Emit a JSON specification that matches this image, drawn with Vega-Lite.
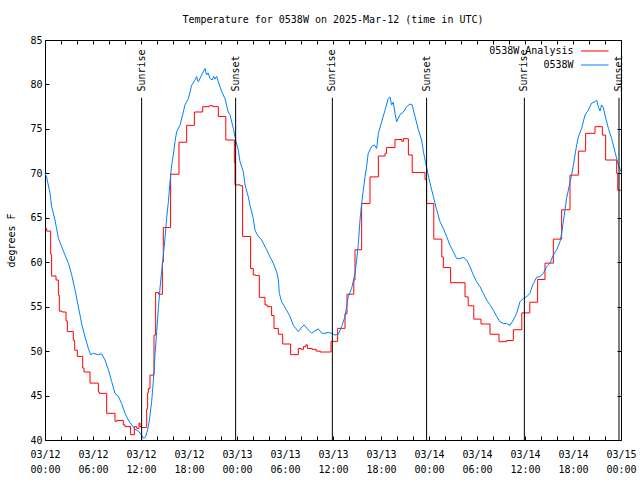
{
  "$schema": "https://vega.github.io/schema/vega-lite/v6.json",
  "width": 576,
  "height": 400,
  "autosize": "none",
  "padding": {"left": 45, "top": 40, "right": 19, "bottom": 40},
  "background": "white",
  "title": {"text": "Temperature for 0538W on 2025-Mar-12 (time in UTC)", "font": "DejaVu Sans Mono", "fontSize": 10, "fontWeight": "normal", "color": "black", "offset": 10, "anchor": "middle"},
  "config": {
    "view": {"stroke": "black", "strokeWidth": 1},
    "axis": {"labelFont": "DejaVu Sans Mono", "labelFontSize": 10, "labelColor": "black", "tickColor": "black", "titleFont": "DejaVu Sans Mono", "titleFontSize": 10, "titleFontWeight": "normal", "titleColor": "black", "grid": false, "domain": false},
    "legend": {"orient": "none", "legendX": 531, "legendY": 6, "title": null, "symbolType": "M0,0H9.2", "symbolSize": 36, "symbolStrokeWidth": 1, "symbolFillColor": "transparent", "labelFont": "DejaVu Sans Mono", "labelFontSize": 10, "labelColor": "black", "labelAlign": "right", "labelOffset": -12.5, "rowPadding": 4, "padding": 0}
  },
  "datasets": {
    "ana": [
      {"h": 0, "v": 63.8}, {"h": 0.21, "v": 63.5}, {"h": 0.71, "v": 60.9}, {"h": 0.83, "v": 58.45}, {"h": 1.375, "v": 58.0}, {"h": 1.67, "v": 56.3}, {"h": 1.79, "v": 54.5}, {"h": 2.125, "v": 54.4}, {"h": 2.625, "v": 53.4}, {"h": 2.79, "v": 52.2}, {"h": 3.54, "v": 51.2}, {"h": 3.71, "v": 50.1}, {"h": 4.04, "v": 49.4}, {"h": 4.71, "v": 48.1}, {"h": 4.875, "v": 47.65}, {"h": 5.625, "v": 46.4}, {"h": 6.67, "v": 45.4}, {"h": 6.79, "v": 45.25}, {"h": 7.71, "v": 43.0}, {"h": 8.75, "v": 42.1}, {"h": 8.96, "v": 42.2}, {"h": 9.79, "v": 41.7}, {"h": 10.0, "v": 41.5}, {"h": 10.7, "v": 40.6}, {"h": 11.17, "v": 41.5}, {"h": 11.46, "v": 41.3}, {"h": 11.75, "v": 41.9}, {"h": 11.875, "v": 41.5}, {"h": 12.08, "v": 41.4}, {"h": 12.71, "v": 43.5}, {"h": 12.83, "v": 45.3}, {"h": 12.92, "v": 45.8}, {"h": 13.125, "v": 47.3}, {"h": 13.625, "v": 51.8}, {"h": 13.83, "v": 56.6}, {"h": 14.2, "v": 56.4}, {"h": 14.67, "v": 60.0}, {"h": 14.79, "v": 63.9}, {"h": 15.7, "v": 69.9}, {"h": 16.75, "v": 73.5}, {"h": 17.71, "v": 75.4}, {"h": 18.67, "v": 76.9}, {"h": 19.71, "v": 77.5}, {"h": 20.5, "v": 77.6}, {"h": 21.0, "v": 77.5}, {"h": 21.67, "v": 76.4}, {"h": 22.6, "v": 73.75}, {"h": 23.67, "v": 71.2}, {"h": 23.75, "v": 68.7}, {"h": 24.4, "v": 68.6}, {"h": 24.7, "v": 62.9},
      {"h": 25.7, "v": 59.3}, {"h": 26.04, "v": 58.56}, {"h": 26.375, "v": 58.5}, {"h": 26.79, "v": 56.05}, {"h": 27.5, "v": 55.2}, {"h": 27.79, "v": 55.0}, {"h": 28.33, "v": 54.0}, {"h": 28.625, "v": 52.55}, {"h": 29.17, "v": 51.9}, {"h": 29.71, "v": 50.8}, {"h": 30.7, "v": 49.6}, {"h": 31.67, "v": 50.3}, {"h": 32.0, "v": 50.2}, {"h": 32.3, "v": 50.5}, {"h": 32.6, "v": 50.7}, {"h": 32.8, "v": 50.3}, {"h": 33.4, "v": 50.2}, {"h": 33.9, "v": 50.0}, {"h": 34.4, "v": 49.9}, {"h": 35.75, "v": 51.1}, {"h": 36.58, "v": 52.56}, {"h": 37.5, "v": 54.2}, {"h": 37.75, "v": 56.4}, {"h": 38.6, "v": 58.0}, {"h": 38.75, "v": 61.4}, {"h": 39.58, "v": 66.6}, {"h": 40.625, "v": 69.6}, {"h": 41.67, "v": 71.95}, {"h": 42.5, "v": 72.25}, {"h": 42.7, "v": 72.9}, {"h": 43.75, "v": 73.8}, {"h": 44.6, "v": 73.6}, {"h": 44.8, "v": 73.9}, {"h": 45.42, "v": 72.06}, {"h": 45.9, "v": 70.1}, {"h": 47.5, "v": 69.3}, {"h": 47.7, "v": 66.6}, {"h": 48.6, "v": 62.6}, {"h": 49.6, "v": 60.6}, {"h": 49.79, "v": 59.4}, {"h": 50.7, "v": 57.7}, {"h": 52.5, "v": 56.1}, {"h": 52.9, "v": 55.1}, {"h": 53.6, "v": 53.6}, {"h": 54.5, "v": 53.05}, {"h": 55.625, "v": 51.9}, {"h": 56.75, "v": 51.06}, {"h": 57.7, "v": 51.2}, {"h": 58.54, "v": 52.4}, {"h": 59.6, "v": 54.3}, {"h": 60.6, "v": 55.5}, {"h": 61.58, "v": 58.06}, {"h": 62.5, "v": 59.9}, {"h": 63.54, "v": 62.6}, {"h": 64.58, "v": 65.9}, {"h": 65.625, "v": 69.8}, {"h": 66.67, "v": 72.5}, {"h": 67.58, "v": 74.5}, {"h": 68.75, "v": 75.25}, {"h": 69.67, "v": 74.3}, {"h": 70.08, "v": 71.5}, {"h": 71.46, "v": 70.0}, {"h": 71.6, "v": 68.1}, {"h": 72.0, "v": 68.1}
    ],
    "obs": [
      {"h": 0, "v": 70.0}, {"h": 0.2, "v": 69.6}, {"h": 0.625, "v": 67.75}, {"h": 0.83, "v": 66.25}, {"h": 1.25, "v": 64.75}, {"h": 1.67, "v": 62.7}, {"h": 2.08, "v": 61.75}, {"h": 2.5, "v": 60.8}, {"h": 2.92, "v": 59.9}, {"h": 3.33, "v": 58.6}, {"h": 3.75, "v": 56.9}, {"h": 4.17, "v": 55.0}, {"h": 4.58, "v": 53.1}, {"h": 5.0, "v": 51.6}, {"h": 5.42, "v": 50.3}, {"h": 5.7, "v": 49.6}, {"h": 6.04, "v": 49.75}, {"h": 6.67, "v": 49.6}, {"h": 7.08, "v": 49.7}, {"h": 7.5, "v": 49.0}, {"h": 7.92, "v": 47.9}, {"h": 8.33, "v": 46.6}, {"h": 8.75, "v": 45.25}, {"h": 9.17, "v": 44.9}, {"h": 9.58, "v": 44.1}, {"h": 10.0, "v": 43.0}, {"h": 10.42, "v": 42.25}, {"h": 10.83, "v": 41.7}, {"h": 11.25, "v": 41.2}, {"h": 11.67, "v": 41.0}, {"h": 12.08, "v": 40.56}, {"h": 12.3, "v": 40.2}, {"h": 12.55, "v": 40.3}, {"h": 12.75, "v": 40.9}, {"h": 12.92, "v": 41.5}, {"h": 13.1, "v": 42.6}, {"h": 13.33, "v": 44.3}, {"h": 13.54, "v": 46.6}, {"h": 13.75, "v": 49.6}, {"h": 13.96, "v": 52.2}, {"h": 14.17, "v": 54.8}, {"h": 14.375, "v": 57.1}, {"h": 14.58, "v": 58.9}, {"h": 14.79, "v": 60.8}, {"h": 15.0, "v": 62.7}, {"h": 15.2, "v": 64.9}, {"h": 15.42, "v": 66.8}, {"h": 15.625, "v": 69.06}, {"h": 15.83, "v": 70.9}, {"h": 16.04, "v": 72.06}, {"h": 16.25, "v": 73.56}, {"h": 16.46, "v": 74.7}, {"h": 16.875, "v": 75.4}, {"h": 17.29, "v": 76.9}, {"h": 17.5, "v": 77.7}, {"h": 17.92, "v": 78.4}, {"h": 18.33, "v": 79.9}, {"h": 18.75, "v": 80.5}, {"h": 18.96, "v": 80.9}, {"h": 19.05, "v": 80.5}, {"h": 19.17, "v": 80.3}, {"h": 19.58, "v": 81.06}, {"h": 20.0, "v": 81.8}, {"h": 20.2, "v": 81.06}, {"h": 20.4, "v": 81.3}, {"h": 20.6, "v": 80.7}, {"h": 20.9, "v": 80.5}, {"h": 21.1, "v": 80.9}, {"h": 21.25, "v": 80.6}, {"h": 21.46, "v": 80.9}, {"h": 21.67, "v": 80.3}, {"h": 22.08, "v": 79.2}, {"h": 22.5, "v": 78.4}, {"h": 22.9, "v": 76.9}, {"h": 23.125, "v": 76.6}, {"h": 23.54, "v": 75.06}, {"h": 23.875, "v": 73.56}, {"h": 24.17, "v": 72.6}, {"h": 24.375, "v": 71.3}, {"h": 24.79, "v": 70.2}, {"h": 25.0, "v": 68.7}, {"h": 25.4, "v": 67.4}, {"h": 25.625, "v": 66.4}, {"h": 26.04, "v": 64.9}, {"h": 26.25, "v": 63.6}, {"h": 26.6, "v": 63.0}, {"h": 27.08, "v": 62.5}, {"h": 27.7, "v": 61.4}, {"h": 28.125, "v": 60.6}, {"h": 28.54, "v": 59.9}, {"h": 28.96, "v": 58.9}, {"h": 29.17, "v": 58.0}, {"h": 29.29, "v": 56.5}, {"h": 29.58, "v": 55.56}, {"h": 30.2, "v": 54.6}, {"h": 30.625, "v": 53.9}, {"h": 31.04, "v": 52.9}, {"h": 31.67, "v": 52.2}, {"h": 32.0, "v": 52.6}, {"h": 32.4, "v": 52.95}, {"h": 32.9, "v": 52.4}, {"h": 33.33, "v": 52.0}, {"h": 33.75, "v": 52.3}, {"h": 34.17, "v": 52.5}, {"h": 34.6, "v": 52.0}, {"h": 35.0, "v": 52.0}, {"h": 35.4, "v": 52.1}, {"h": 35.83, "v": 52.0}, {"h": 36.25, "v": 51.8}, {"h": 36.67, "v": 51.9}, {"h": 37.08, "v": 52.75}, {"h": 37.5, "v": 53.9}, {"h": 37.7, "v": 55.0}, {"h": 37.9, "v": 56.1}, {"h": 38.33, "v": 57.06}, {"h": 38.75, "v": 58.75}, {"h": 38.96, "v": 60.25}, {"h": 39.17, "v": 62.1}, {"h": 39.375, "v": 64.75}, {"h": 39.58, "v": 66.6}, {"h": 39.79, "v": 68.1}, {"h": 40.0, "v": 69.6}, {"h": 40.2, "v": 70.75}, {"h": 40.4, "v": 72.25}, {"h": 40.83, "v": 73.0}, {"h": 41.17, "v": 73.2}, {"h": 41.46, "v": 72.8}, {"h": 41.67, "v": 74.5}, {"h": 42.08, "v": 75.8}, {"h": 42.5, "v": 77.1}, {"h": 42.9, "v": 78.4}, {"h": 43.125, "v": 78.6}, {"h": 43.33, "v": 77.7}, {"h": 43.54, "v": 78.0}, {"h": 43.75, "v": 76.75}, {"h": 43.96, "v": 75.8}, {"h": 44.375, "v": 76.6}, {"h": 44.8, "v": 76.9}, {"h": 45.2, "v": 77.5}, {"h": 45.625, "v": 77.8}, {"h": 45.9, "v": 77.7}, {"h": 46.25, "v": 76.4}, {"h": 46.67, "v": 74.9}, {"h": 47.08, "v": 73.75}, {"h": 47.29, "v": 72.5}, {"h": 47.71, "v": 70.6}, {"h": 48.125, "v": 68.9}, {"h": 48.54, "v": 67.4}, {"h": 48.96, "v": 65.9}, {"h": 49.375, "v": 64.56}, {"h": 49.79, "v": 63.8}, {"h": 50.2, "v": 62.9}, {"h": 50.625, "v": 61.9}, {"h": 51.04, "v": 61.2}, {"h": 51.46, "v": 60.4}, {"h": 51.875, "v": 60.4}, {"h": 52.29, "v": 60.55}, {"h": 52.7, "v": 60.25}, {"h": 53.125, "v": 59.5}, {"h": 53.54, "v": 58.56}, {"h": 53.96, "v": 57.8}, {"h": 54.375, "v": 57.25}, {"h": 54.79, "v": 56.5}, {"h": 55.2, "v": 55.75}, {"h": 55.625, "v": 55.2}, {"h": 56.04, "v": 54.6}, {"h": 56.46, "v": 53.9}, {"h": 56.875, "v": 53.3}, {"h": 57.29, "v": 53.1}, {"h": 57.7, "v": 53.1}, {"h": 58.125, "v": 52.9}, {"h": 58.54, "v": 53.5}, {"h": 58.96, "v": 54.25}, {"h": 59.375, "v": 55.56}, {"h": 59.79, "v": 55.94}, {"h": 60.2, "v": 56.1}, {"h": 60.6, "v": 56.5}, {"h": 61.04, "v": 57.6}, {"h": 61.46, "v": 58.3}, {"h": 61.875, "v": 58.4}, {"h": 62.29, "v": 58.75}, {"h": 62.7, "v": 59.5}, {"h": 63.125, "v": 59.9}, {"h": 63.54, "v": 60.8}, {"h": 63.96, "v": 61.4}, {"h": 64.375, "v": 62.3}, {"h": 64.58, "v": 63.25}, {"h": 64.79, "v": 64.56}, {"h": 65.0, "v": 65.9}, {"h": 65.2, "v": 67.2}, {"h": 65.42, "v": 68.1}, {"h": 65.625, "v": 69.06}, {"h": 65.83, "v": 69.8}, {"h": 66.04, "v": 70.9}, {"h": 66.25, "v": 72.06}, {"h": 66.46, "v": 73.2}, {"h": 66.67, "v": 74.1}, {"h": 67.08, "v": 75.06}, {"h": 67.5, "v": 76.56}, {"h": 67.9, "v": 77.1}, {"h": 68.33, "v": 77.9}, {"h": 68.75, "v": 78.06}, {"h": 68.96, "v": 78.25}, {"h": 69.17, "v": 77.5}, {"h": 69.375, "v": 77.0}, {"h": 69.58, "v": 77.7}, {"h": 69.79, "v": 77.4}, {"h": 70.0, "v": 76.56}, {"h": 70.42, "v": 75.06}, {"h": 70.83, "v": 73.9}, {"h": 71.25, "v": 72.4}, {"h": 71.67, "v": 70.9}, {"h": 72.0, "v": 70.2}
    ],
    "sun": [
      {"h": 12.08, "event": "Sunrise"}, {"h": 23.83, "event": "Sunset"}, {"h": 35.92, "event": "Sunrise"}, {"h": 47.7, "event": "Sunset"}, {"h": 59.92, "event": "Sunrise"}, {"h": 71.75, "event": "Sunset"}
    ]
  },
  "layer": [
    {
      "data": {"name": "ana"},
      "mark": {"type": "line", "interpolate": "step-after", "strokeWidth": 1},
      "encoding": {
        "x": {"field": "h", "type": "quantitative", "scale": {"domain": [0, 72], "nice": false, "zero": false},
          "axis": {"orient": "bottom", "title": null, "values": [0,2,4,6,8,10,12,14,16,18,20,22,24,26,28,30,32,34,36,38,40,42,44,46,48,50,52,54,56,58,60,62,64,66,68,70,72], "labelExpr": "datum.value % 6 == 0 ? ['03/' + (12 + floor(datum.value / 24)), (datum.value % 24 < 10 ? '0' : '') + (datum.value % 24) + ':00'] : ''", "tickSize": -4, "labelPadding": 13, "labelBaseline": "top", "labelLineHeight": 15, "labelOverlap": false, "labelFlush": false}},
        "y": {"field": "v", "type": "quantitative", "scale": {"domain": [40, 85], "nice": false, "zero": false},
          "axis": {"orient": "left", "title": "degrees F", "values": [40,45,50,55,60,65,70,75,80,85], "tickSize": -4, "labelPadding": 7, "titlePadding": 13}},
        "color": {"datum": "0538W Analysis", "type": "nominal", "scale": {"domain": ["0538W Analysis", "0538W"], "range": ["#ff0000", "#0080ff"]}}
      }
    },
    {
      "data": {"name": "obs"},
      "mark": {"type": "line", "strokeWidth": 1},
      "encoding": {
        "x": {"field": "h", "type": "quantitative", "axis": {"orient": "top", "title": null, "labels": false, "values": [0,2,4,6,8,10,12,14,16,18,20,22,24,26,28,30,32,34,36,38,40,42,44,46,48,50,52,54,56,58,60,62,64,66,68,70,72], "tickSize": -4}},
        "y": {"field": "v", "type": "quantitative", "axis": {"orient": "right", "title": null, "labels": false, "values": [40,45,50,55,60,65,70,75,80,85], "tickSize": -4}},
        "color": {"datum": "0538W", "type": "nominal"}
      }
    },
    {
      "data": {"name": "sun"},
      "mark": {"type": "rule", "color": "black", "strokeWidth": 1},
      "encoding": {
        "x": {"field": "h", "type": "quantitative", "axis": null},
        "y": {"datum": 78.5, "type": "quantitative", "axis": null},
        "y2": {"datum": 40}
      }
    },
    {
      "data": {"name": "sun"},
      "mark": {"type": "text", "angle": 270, "align": "left", "baseline": "middle", "font": "DejaVu Sans Mono", "fontSize": 10, "color": "black"},
      "encoding": {
        "x": {"field": "h", "type": "quantitative", "axis": null},
        "y": {"datum": 79.2, "type": "quantitative", "axis": null},
        "text": {"field": "event"}
      }
    }
  ],
  "resolve": {"axis": {"x": "independent", "y": "independent"}}
}
